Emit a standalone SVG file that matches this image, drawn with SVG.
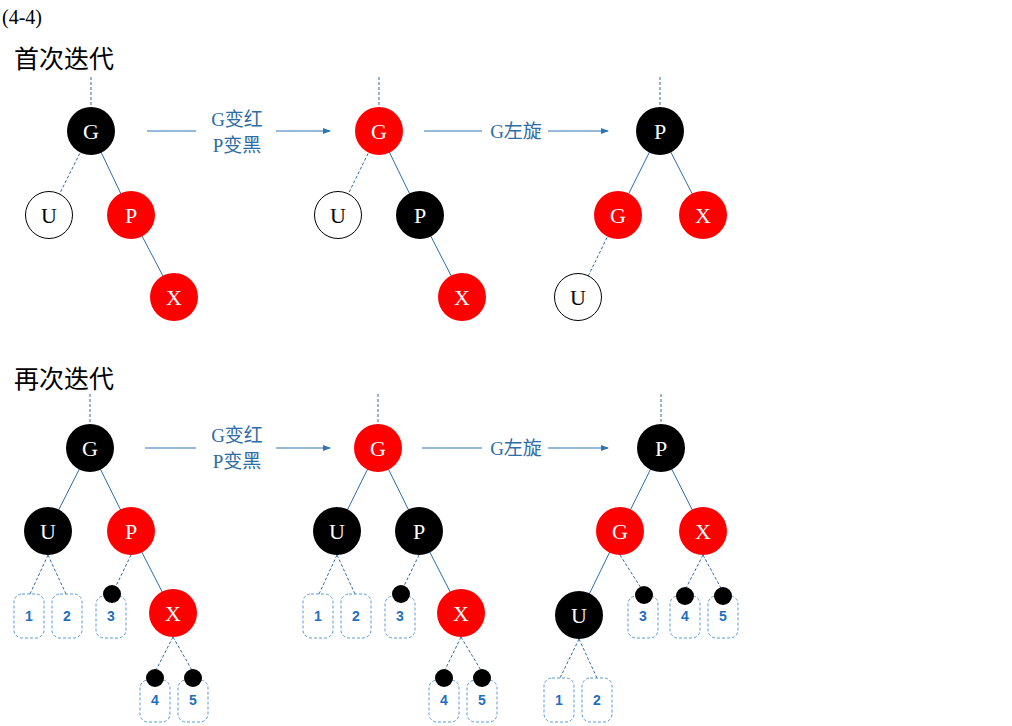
<svg xmlns="http://www.w3.org/2000/svg" width="1012" height="726" viewBox="0 0 1012 726">
<defs>
<marker id="ah" markerWidth="8" markerHeight="8" refX="7" refY="4" orient="auto" markerUnits="userSpaceOnUse"><path d="M0,1 L8,4 L0,7 z" fill="#2e75b6"/></marker>
<style>
.b{fill:#000}.r{fill:#f00}.w{fill:#fff;stroke:#000;stroke-width:1}
.nt{font-family:"Liberation Serif","Noto Sans CJK SC",serif;font-size:22px;fill:#fff;text-anchor:middle}
.w+.nt,.wt{fill:#000}
.e{stroke:#2e6da4;stroke-width:1;fill:none}
.d{stroke:#2e6da4;stroke-width:1;stroke-dasharray:3,2;fill:none}
.box{fill:#fff;stroke:#5b9bd5;stroke-width:1;stroke-dasharray:3,2}
.lt{font-family:"Liberation Sans",sans-serif;font-weight:bold;font-size:14px;fill:#1f6fbf;text-anchor:middle}
.al{stroke:#2e75b6;stroke-width:1.2;marker-end:url(#ah)}
.at{font-family:"Liberation Serif","Noto Sans CJK SC",serif;font-size:19px;fill:#2e6da4;text-anchor:middle}
.tt{font-family:"Noto Sans CJK SC",sans-serif;font-size:25px;fill:#000}
</style>
</defs>
<rect width="1012" height="726" fill="#fff"/>
<text x="2" y="24" font-family="Liberation Serif,Noto Sans CJK SC,serif" font-size="20">(4-4)</text>
<text class="tt" x="14" y="68">首次迭代</text>
<text class="tt" x="14" y="388">再次迭代</text>
<g id="connectors">
<path class="d" d="M91,77V107M91,131L49,215M379,77V107M379,131L338,215M660,77V107M618,215L578,297"/>
<path class="e" d="M91,131L131,215L174,297M379,131L420,215L462,297M660,131L618,215M660,131L703,215"/>
<line class="al" x1="147" y1="131" x2="330" y2="131"/>
<line class="al" x1="424" y1="131" x2="608" y2="131"/>
<path class="d" d="M90,394V424M378,394V424M661,394V424"/>
<path class="e" d="M90,448L48,531M90,448L131,531L173,613M378,448L337,531M378,448L419,531L461,613M661,448L620,531M661,448L703,531M620,531L579,615"/>
<path class="d" d="M48,555L30,594M48,555L66,594M131,555L115,588M173,637L155,672M173,637L193,672"/>
<path class="d" d="M337,555L319,594M337,555L355,594M419,555L403,588M461,637L444,672M461,637L482,672"/>
<path class="d" d="M579,639L560,678M579,639L597,678M620,555L641,588M703,555L685,590M703,555L722,590"/>
<line class="al" x1="145" y1="448" x2="330" y2="448"/>
<line class="al" x1="422" y1="448" x2="608" y2="448"/>
</g>
<rect x="196" y="110" width="80" height="48" fill="#fff"/>
<text class="at" x="237" y="126">G变红</text><text class="at" x="237" y="152">P变黑</text>
<rect x="482" y="121" width="66" height="22" fill="#fff"/>
<text class="at" x="516" y="138">G左旋</text>
<rect x="196" y="426" width="80" height="48" fill="#fff"/>
<text class="at" x="237" y="442">G变红</text><text class="at" x="237" y="468">P变黑</text>
<rect x="482" y="438" width="66" height="22" fill="#fff"/>
<text class="at" x="516" y="455">G左旋</text>
<!-- leaves boxes -->
<g id="leaves">
<rect class="box" x="14" y="594" width="30" height="44" rx="8"/><text class="lt" x="29" y="621">1</text>
<rect class="box" x="52" y="594" width="30" height="44" rx="8"/><text class="lt" x="67" y="621">2</text>
<rect class="box" x="96" y="596" width="30" height="42" rx="8"/><text class="lt" x="111" y="621">3</text>
<rect class="box" x="140" y="680" width="30" height="42" rx="8"/><text class="lt" x="155" y="705">4</text>
<rect class="box" x="178" y="680" width="30" height="42" rx="8"/><text class="lt" x="193" y="705">5</text>
<rect class="box" x="303" y="594" width="30" height="44" rx="8"/><text class="lt" x="318" y="621">1</text>
<rect class="box" x="341" y="594" width="30" height="44" rx="8"/><text class="lt" x="356" y="621">2</text>
<rect class="box" x="385" y="596" width="30" height="42" rx="8"/><text class="lt" x="400" y="621">3</text>
<rect class="box" x="429" y="680" width="30" height="42" rx="8"/><text class="lt" x="444" y="705">4</text>
<rect class="box" x="467" y="680" width="30" height="42" rx="8"/><text class="lt" x="482" y="705">5</text>
<rect class="box" x="544" y="678" width="30" height="44" rx="8"/><text class="lt" x="559" y="705">1</text>
<rect class="box" x="582" y="678" width="30" height="44" rx="8"/><text class="lt" x="597" y="705">2</text>
<rect class="box" x="628" y="596" width="30" height="42" rx="8"/><text class="lt" x="643" y="621">3</text>
<rect class="box" x="670" y="596" width="30" height="42" rx="8"/><text class="lt" x="685" y="621">4</text>
<rect class="box" x="708" y="596" width="30" height="42" rx="8"/><text class="lt" x="723" y="621">5</text>
<circle class="b" cx="112" cy="594" r="9"/><circle class="b" cx="155" cy="678" r="9"/><circle class="b" cx="193" cy="678" r="9"/>
<circle class="b" cx="401" cy="594" r="9"/><circle class="b" cx="444" cy="678" r="9"/><circle class="b" cx="482" cy="678" r="9"/>
<circle class="b" cx="644" cy="595" r="9"/><circle class="b" cx="685" cy="596" r="9"/><circle class="b" cx="723" cy="596" r="9"/>
</g>
<g id="t1G"><circle class="b" cx="91" cy="131" r="24"/><text class="nt" x="91" y="139">G</text></g>
<g id="t1U"><circle class="w" cx="49" cy="215" r="23.5"/><text class="nt wt" x="49" y="223">U</text></g>
<g id="t1P"><circle class="r" cx="131" cy="215" r="24"/><text class="nt" x="131" y="223">P</text></g>
<g id="t1X"><circle class="r" cx="174" cy="297" r="24"/><text class="nt" x="174" y="305">X</text></g>
<g id="t2G"><circle class="r" cx="379" cy="131" r="24"/><text class="nt" x="379" y="139">G</text></g>
<g id="t2U"><circle class="w" cx="338" cy="215" r="23.5"/><text class="nt wt" x="338" y="223">U</text></g>
<g id="t2P"><circle class="b" cx="420" cy="215" r="24"/><text class="nt" x="420" y="223">P</text></g>
<g id="t2X"><circle class="r" cx="462" cy="297" r="24"/><text class="nt" x="462" y="305">X</text></g>
<g id="t3P"><circle class="b" cx="660" cy="131" r="24"/><text class="nt" x="660" y="139">P</text></g>
<g id="t3G"><circle class="r" cx="618" cy="215" r="24"/><text class="nt" x="618" y="223">G</text></g>
<g id="t3X"><circle class="r" cx="703" cy="215" r="24"/><text class="nt" x="703" y="223">X</text></g>
<g id="t3U"><circle class="w" cx="578" cy="297" r="23.5"/><text class="nt wt" x="578" y="305">U</text></g>
<g id="b1G"><circle class="b" cx="90" cy="448" r="24"/><text class="nt" x="90" y="456">G</text></g>
<g id="b1U"><circle class="b" cx="48" cy="531" r="24"/><text class="nt" x="48" y="539">U</text></g>
<g id="b1P"><circle class="r" cx="131" cy="531" r="24"/><text class="nt" x="131" y="539">P</text></g>
<g id="b1X"><circle class="r" cx="173" cy="613" r="24"/><text class="nt" x="173" y="621">X</text></g>
<g id="b2G"><circle class="r" cx="378" cy="448" r="24"/><text class="nt" x="378" y="456">G</text></g>
<g id="b2U"><circle class="b" cx="337" cy="531" r="24"/><text class="nt" x="337" y="539">U</text></g>
<g id="b2P"><circle class="b" cx="419" cy="531" r="24"/><text class="nt" x="419" y="539">P</text></g>
<g id="b2X"><circle class="r" cx="461" cy="613" r="24"/><text class="nt" x="461" y="621">X</text></g>
<g id="b3P"><circle class="b" cx="661" cy="448" r="24"/><text class="nt" x="661" y="456">P</text></g>
<g id="b3G"><circle class="r" cx="620" cy="531" r="24"/><text class="nt" x="620" y="539">G</text></g>
<g id="b3X"><circle class="r" cx="703" cy="531" r="24"/><text class="nt" x="703" y="539">X</text></g>
<g id="b3U"><circle class="b" cx="579" cy="615" r="24"/><text class="nt" x="579" y="623">U</text></g>
</svg>
